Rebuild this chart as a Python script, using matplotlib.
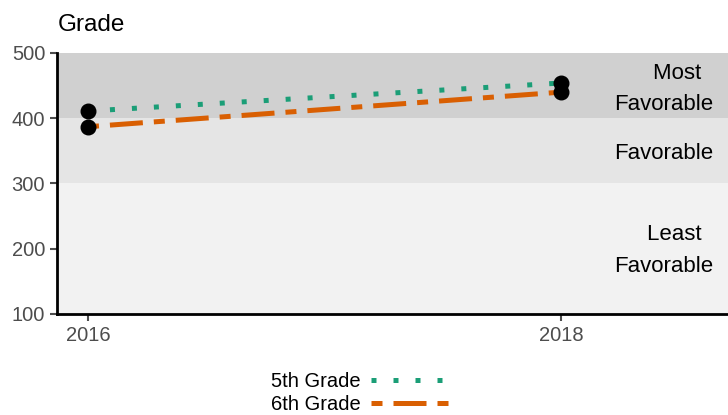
import matplotlib
matplotlib.use("Agg")
import matplotlib.pyplot as plt

years = [2016, 2018]
grade5 = [411, 454]
grade6 = [387, 440]
bands = [(100, 300, "#f2f2f2", "Least  \nFavorable", 197),
         (300, 400, "#e5e5e5", "Favorable", 346),
         (400, 500, "#d0d0d0", "Most  \nFavorable", 445)]

plt.rcParams['font.family'] = ['Liberation Sans', 'DejaVu Sans']

fig = plt.figure(figsize=(7.28, 4.15), dpi=100)
ax = fig.add_axes([0.0783, 0.2434, 0.9217, 0.6289])

for lo, hi, col, lab, ypos in bands:
    ax.axhspan(lo, hi, color=col, zorder=0, lw=0)
    ax.text(2018.645, ypos, lab, ha='right', va='center', fontsize=16,
            linespacing=1.65, multialignment='right')

l5, = ax.plot(years, grade5, color='#1b9e77', lw=3.6, dashes=(1, 3.4),
              dash_capstyle='butt', label='5th Grade', zorder=2)
l6, = ax.plot(years, grade6, color='#d95f02', lw=3.6, dashes=(2.2, 2.2, 6.6, 2.2),
              dash_capstyle='butt', label='6th Grade', zorder=2)
ax.scatter(years, grade5, s=110, color='black', zorder=3)
ax.scatter(years, grade6, s=110, color='black', zorder=3)

ax.set_xlim(2015.869, 2018.706)
ax.set_ylim(100, 500)
ax.set_xticks(years)
ax.set_yticks([100, 200, 300, 400, 500])
ax.tick_params(colors='#4d4d4d', labelsize=14.5, width=1.5, length=5)
for s in ['top', 'right']:
    ax.spines[s].set_visible(False)
for s in ['left', 'bottom']:
    ax.spines[s].set_linewidth(2)
    ax.spines[s].set_color('black')

fig.text(0.08, 0.94, "Grade", fontsize=17.5, ha='left', va='center')

fig.legend(handles=[l5, l6], loc='center', bbox_to_anchor=(0.495, 0.054),
           frameon=False, markerfirst=False, fontsize=14.5, handlelength=3.9,
           labelspacing=0.2, handletextpad=0.5)

fig.savefig('out.png', dpi=100)
